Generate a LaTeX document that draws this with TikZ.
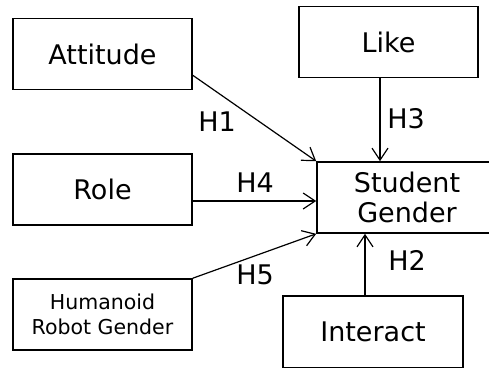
\documentclass[tikz,border=0pt]{standalone}
\usepackage{fontspec}
\setmainfont{DejaVu Sans}
\usetikzlibrary{arrows.meta,calc}
\begin{document}
\begin{tikzpicture}[x=1pt,y=-1pt,
  box/.style={draw=black,line width=1.6pt,rectangle,inner sep=0pt,minimum width=179pt,minimum height=71pt,align=center,font=\fontsize{27}{30}\selectfont},
  conn/.style={line width=1.2pt,-{Straight Barb[length=12pt,width=16pt,line width=1.2pt]}},
  lbl/.style={font=\fontsize{27}{30}\selectfont,inner sep=0pt}]
\useasboundingbox (0,0) rectangle (489,367);
\clip (0,0) rectangle (489,367);
\fill[white] (0,0) rectangle (489,367);
\node[box] (att) at (102.5,54) {Attitude};
\node[box] (like) at (388.5,42) {Like};
\node[box] (role) at (102.5,189.5) {Role};
\node[box,minimum width=180pt] (sg) at (407,197.5) {Student\\Gender};
\node[box,font=\fontsize{20.5}{25}\selectfont] (hum) at (102.5,314.5) {Humanoid\\Robot Gender};
\node[box,minimum width=180pt,minimum height=72pt] (inter) at (373,332) {Interact};
\draw[conn] ([yshift=15pt]att.south east) -- (sg.north west);
\draw[conn] ([xshift=-8.5pt]like.south) -- ([xshift=-8.5pt]like.south |- sg.north);
\draw[conn] ([yshift=-11.5pt]role.east) -- ([yshift=-11.5pt]role.east -| sg.west);
\draw[conn] (hum.north east) -- (sg.south west);
\draw[conn] ([xshift=-8pt]inter.north) -- ([xshift=-8pt]inter.north |- sg.south);
\node[lbl] (h1) at (217,122) {H1};
\node[lbl] (h3) at (406,119) {H3};
\node[lbl] (h4) at (255,183) {H4};
\node[lbl] (h5) at (255,275) {H5};
\node[lbl] (h2) at (407,260) {H2};
\end{tikzpicture}
\end{document}
